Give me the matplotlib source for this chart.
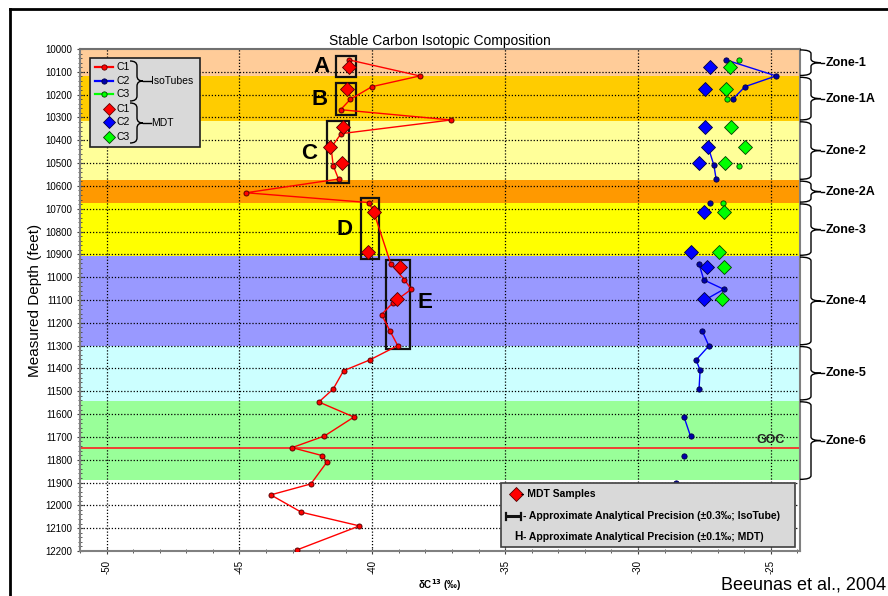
import numpy as np
import matplotlib
matplotlib.use("Agg")
import matplotlib.pyplot as plt
from matplotlib.path import Path
from matplotlib.patches import PathPatch, Rectangle
from matplotlib.transforms import blended_transform_factory

plt.rcParams['font.family'] = ['Liberation Sans', 'DejaVu Sans']
plt.rcParams['axes.unicode_minus'] = False

nan = np.nan

# ---------------- data ----------------
zone_names = ['Zone-1', 'Zone-1A', 'Zone-2', 'Zone-2A', 'Zone-3', 'Zone-4', 'Zone-5', 'Zone-6']
zone_top = [10000, 10120, 10315, 10575, 10675, 10908, 11300, 11542]
zone_bot = [10120, 10315, 10575, 10675, 10908, 11300, 11542, 11890]
zone_colors = ['#FFCC99', '#FFCC00', '#FFFF99', '#FF9900', '#FFFF00', '#9999FF', '#CCFFFF', '#99FF99']

goc_depth = 11750

# IsoTubes C1 (continuous)
c1_depth = [10048, 10118, 10165, 10220, 10266, 10311, 10371, 10432, 10511, 10570,
            10630, 10673, 10712, 10942, 11011, 11053, 11112, 11164, 11236, 11300,
            11363, 11410, 11490, 11547, 11613, 11696, 11747, 11782, 11811, 11906,
            11954, 12030, 12090, 12195]
c1_val = [-40.86, -38.21, -40.01, -40.82, -41.19, -37.03, -41.17, -41.55, -41.47, -41.27,
          -44.75, -40.13, -39.95, -39.30, -38.79, -38.53, -39.22, -39.65, -39.33, -39.04,
          -40.10, -41.08, -41.47, -42.01, -40.69, -41.80, -43.02, -41.88, -41.71, -42.31,
          -43.82, -42.67, -40.48, -42.83]

# IsoTubes C2 (gaps as NaN)
c2_depth = [10048, 10118, 10165, 10220, nan, 10432, 10510, 10568, nan, 10673, nan,
            10942, 11012, 11053, 11098, nan, 11236, 11301, 11363, 11408, 11490, nan,
            11611, 11697, nan, 11782, nan, 11900]
c2_val = [-26.68, -24.80, -25.97, -26.43, nan, -27.35, -27.14, -27.06, nan, -27.29, nan,
          -27.70, -27.52, -26.77, -27.45, nan, -27.58, -27.33, -27.81, -27.66, -27.70, nan,
          -28.27, -28.02, nan, -28.27, nan, -28.57]

# IsoTubes C3 (isolated points)
c3_depth = [10048, 10220, 10511, 10673]
c3_val = [-26.20, -26.65, -26.18, -26.79]

# MDT samples
mdt_depth = [10077, 10175, 10340, 10431, 10499, 10713, 10888, 10954, 11094]
mdt_c1 = [-40.88, -40.95, -41.10, -41.58, -41.12, -39.92, -40.17, -38.94, -39.06]
mdt_c2 = [-27.27, -27.46, -27.47, -27.36, -27.70, -27.50, -27.99, -27.39, -27.50]
mdt_c3 = [-26.53, -26.70, -26.49, -25.97, -26.73, -26.76, -26.93, -26.76, -26.84]

# Sample group boxes
box_labels = ['A', 'B', 'C', 'D', 'E']
box_x0 = [-41.36, -41.38, -41.69, -40.43, -39.47]
box_x1 = [-40.62, -40.63, -40.89, -39.74, -38.58]
box_d0 = [10031, 10148, 10317, 10654, 10925]
box_d1 = [10121, 10291, 10589, 10922, 11316]
label_x = [-41.92, -41.99, -42.37, -41.05, -38.01]
label_d = [10075, 10220, 10456, 10793, 11113]

x_ticks = [-50, -45, -40, -35, -30, -25]
y_ticks = list(range(10000, 12201, 100))

# ---------------- figure ----------------
W, H = 888, 596
fig = plt.figure(figsize=(W / 100, H / 100), dpi=100)
fig.patch.set_facecolor('white')

ax = fig.add_axes([80 / W, 1 - 551 / H, 720 / W, 502 / H])
ax.set_xlim(-51, -23.9)
ax.set_ylim(12200, 10000)

for t, b, c in zip(zone_top, zone_bot, zone_colors):
    ax.axhspan(t, b, color=c, lw=0, zorder=0)

for yt in y_ticks[1:-1]:
    ax.axhline(yt, color='black', ls=(0, (1, 1.5)), lw=0.9, zorder=1)
for xt in x_ticks:
    ax.axvline(xt, color='black', ls=(0, (1, 1.5)), lw=0.9, zorder=1)

ax.axhline(goc_depth, color='#FF2020', lw=1.2, zorder=2)
ax.text(-25, goc_depth - 12, 'GOC', fontsize=9, fontweight='bold', color='#262626',
        ha='center', va='bottom', zorder=3)

# boxes
for lab, x0, x1, d0, d1, lx, ld in zip(box_labels, box_x0, box_x1, box_d0, box_d1, label_x, label_d):
    ax.add_patch(Rectangle((x0, d0), x1 - x0, d1 - d0, fill=False, ec='#111111', lw=1.6, zorder=3))
    ax.text(lx, ld, lab, fontsize=16, fontweight='bold', ha='center', va='center', zorder=6)

# series
ax.plot(c1_val, c1_depth, '-', color='#FF0000', lw=1.0, marker='o', ms=3.6,
        mfc='#FF0000', mec='#600000', mew=0.7, zorder=4)
ax.plot(c2_val, c2_depth, '-', color='#0000FF', lw=1.0, marker='o', ms=3.8,
        mfc='#0000AA', mec='#000040', mew=0.6, zorder=4)
ax.plot(c3_val, c3_depth, 'none', marker='o', ms=3.8,
        mfc='#00FF00', mec='#004000', mew=0.6, zorder=4)

ax.plot(mdt_c1, mdt_depth, 'none', marker='D', ms=7.2, mfc='#FF0000', mec='#500000', mew=0.6, zorder=5)
ax.plot(mdt_c2, mdt_depth, 'none', marker='D', ms=7.2, mfc='#0000FF', mec='#000040', mew=0.6, zorder=5)
ax.plot(mdt_c3, mdt_depth, 'none', marker='D', ms=7.2, mfc='#00FF00', mec='#004000', mew=0.6, zorder=5)

# axes styling
for s in ['left', 'bottom', 'right', 'top']:
    ax.spines[s].set_color('#808080')
    ax.spines[s].set_linewidth(1.5)
ax.spines['top'].set_color('#707070')
ax.set_xticks(x_ticks)
ax.set_xticklabels([str(v) for v in x_ticks], rotation=90)
ax.set_xticks(np.arange(-51, -23, 1), minor=True)
ax.set_yticks(y_ticks)
ax.set_yticklabels([str(v) for v in y_ticks])
ax.set_yticks(np.arange(10000, 12201, 20), minor=True)
ax.tick_params(axis='both', which='major', labelsize=7, color='#404040', length=5, width=0.8, direction='inout')
ax.tick_params(axis='both', which='minor', color='#404040', length=3, width=0.6, direction='inout')
ax.tick_params(axis='x', which='major', pad=4)
ax.tick_params(axis='y', which='major', pad=3)

ax.set_title('Stable Carbon Isotopic Composition', fontsize=10, pad=3)
ax.set_ylabel('Measured Depth (feet)', fontsize=11)
ax.yaxis.set_label_coords(-0.0625, 0.5)
ax.yaxis.label.set_va('center')
ax.set_xlabel('δC$^{\\mathbf{13}}$ (‰)', fontsize=7, fontweight='bold')
ax.xaxis.set_label_coords(0.5, -0.0677)
ax.xaxis.label.set_va('center')


def brace(axis, x0, x1, x2, yt, yb, r, transform, lw=1.0, tail=None):
    ym = 0.5 * (yt + yb)
    verts = [(x0, yt), (x1, yt), (x1, yt + r), (x1, ym - r), (x1, ym), (x2, ym),
             (x1, ym), (x1, ym + r), (x1, yb - r), (x1, yb), (x0, yb)]
    codes = [Path.MOVETO, Path.CURVE3, Path.CURVE3, Path.LINETO, Path.CURVE3, Path.CURVE3,
             Path.CURVE3, Path.CURVE3, Path.LINETO, Path.CURVE3, Path.CURVE3]
    p = PathPatch(Path(verts, codes), fill=False, lw=lw, ec='black', transform=transform,
                  clip_on=False, zorder=7)
    axis.add_patch(p)
    if tail is not None:
        axis.plot([x2, tail], [ym, ym], color='black', lw=lw, transform=transform, clip_on=False, zorder=7)


# zone braces at right
bt = blended_transform_factory(ax.transAxes, ax.transData)
for name, t, b in zip(zone_names, zone_top, zone_bot):
    brace(ax, 1.0, 1.0 + 11 / 720, 1.0 + 21 / 720, t + 4, b - 4, 16, bt, lw=1.0, tail=1.0 + 24 / 720)
    ax.text(1.0 + 26 / 720, 0.5 * (t + b), name, transform=bt, fontsize=9, fontweight='bold',
            ha='left', va='center', clip_on=False)

# overlay in pixel coordinates for legends and figure frame
ov = fig.add_axes([0, 0, 1, 1], zorder=10)
ov.set_xlim(0, W)
ov.set_ylim(H, 0)
ov.axis('off')
ov.patch.set_visible(False)

# figure frame
ov.plot([10, 10], [9, H], color='black', lw=2, clip_on=False)
ov.plot([10, W], [9, 9], color='black', lw=2, clip_on=False)

# top-left legend
ov.add_patch(Rectangle((90, 58), 110, 89, fc='#D9D9D9', ec='#202020', lw=1.2))
leg_rows = [66.7, 81.3, 94.3, 109, 122.3, 136.7]
iso_cols = [('#FF0000', '#600000'), ('#0000FF', '#000040'), ('#00FF00', '#004000')]
for (lc, ec), y in zip(iso_cols, leg_rows[:3]):
    ov.plot([95, 113], [y, y], color=lc, lw=1.6)
    ov.plot([104], [y], 'o', ms=3.8, mfc=lc if lc != '#0000FF' else '#0000AA', mec=ec, mew=0.6)
for (lc, ec), y in zip(iso_cols, leg_rows[3:]):
    ov.plot([108.5], [y], 'D', ms=6.5, mfc=lc, mec=ec, mew=0.6)
for i, y in enumerate(leg_rows):
    ov.text(116, y, 'C%d' % (i % 3 + 1), fontsize=7.5, ha='left', va='center')
brace(ov, 130, 137, 143, 61, 101, 5, ov.transData, lw=1.0, tail=151)
brace(ov, 130, 137, 143, 103, 143, 5, ov.transData, lw=1.0, tail=151)
ov.text(151, 81, 'IsoTubes', fontsize=7.5, ha='left', va='center')
ov.text(151, 123, 'MDT', fontsize=7.5, ha='left', va='center')

# bottom legend
ov.add_patch(Rectangle((500.7, 483), 294.3, 63.7, fc='#D9D9D9', ec='#404040', lw=1.2))
ov.plot([516], [494.3], 'D', ms=7, mfc='#FF0000', mec='#500000', mew=0.6)
ov.text(521, 494.3, '- MDT Samples', fontsize=7.5, fontweight='bold', ha='left', va='center')
ov.plot([506, 520.5], [516.3, 516.3], color='#111111', lw=2.2, solid_capstyle='butt')
ov.plot([506, 506], [512.5, 520], color='#111111', lw=1.6)
ov.plot([520.5, 520.5], [512.5, 520], color='#111111', lw=1.6)
ov.text(523, 516.3, '- Approximate Analytical Precision (±0.3‰; IsoTube)', fontsize=7.5,
        fontweight='bold', ha='left', va='center')
ov.text(518.3, 537.3, 'H', fontsize=8.5, fontweight='bold', ha='center', va='center')
ov.text(523, 537.3, '- Approximate Analytical Precision (±0.1‰; MDT)', fontsize=7.5,
        fontweight='bold', ha='left', va='center')

# citation
ov.text(721, 585, 'Beeunas et al., 2004', fontsize=13, ha='left', va='center')

fig.savefig('out.png', dpi=100)
